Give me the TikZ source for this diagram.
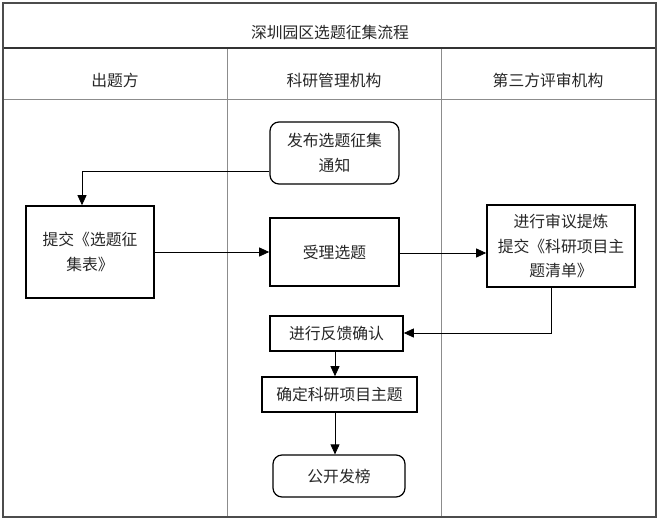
\documentclass[tikz,border=0pt]{standalone}
\usepackage{fontspec}
\setmainfont{Noto Sans CJK SC}
\usetikzlibrary{arrows.meta}
\begin{document}
\begin{tikzpicture}[x=1pt,y=-1pt,
  txt/.style={font=\fontsize{15.8}{24.5}\selectfont, text=black!85, align=center},
  boxthick/.style={txt, draw=black, line width=1.6pt, inner sep=0pt},
  boxround/.style={txt, draw=black, line width=1.2pt, rounded corners=9pt, inner sep=0pt},
  conn/.style={draw=black, line width=0.8pt, -{Triangle[length=10pt,width=9pt]}},
  grid/.style={draw=black!45, line width=0.8pt}]
\useasboundingbox (0,0) rectangle (660,521);
% frame and lanes
\draw[grid] (227,48) -- (227,517);
\draw[grid] (441,48) -- (441,517);
\draw[grid] (3,99) -- (656,99);
\draw[draw=black!80, line width=1.2pt] (3,48) -- (656,48);
\draw[draw=black!70, line width=1.2pt] (3,3) rectangle (656,517);
\node[txt] (title) at (330,32) {深圳园区选题征集流程};
\node[txt] (h1) at (115,80) {出题方};
\node[txt] (h2) at (334,80) {科研管理机构};
\node[txt] (h3) at (548,80) {第三方评审机构};
% nodes
\node[boxround, minimum width=129pt, minimum height=62pt] (notice) at (334.5,153) {发布选题征集\\通知};
\node[boxthick, minimum width=128pt, minimum height=92pt] (submit) at (90,252) {提交《选题征\\集表》};
\node[boxthick, minimum width=129pt, minimum height=68pt] (accept) at (334.5,252) {受理选题};
\node[boxthick, minimum width=148pt, minimum height=82pt] (review) at (561,246) {进行审议提炼\\提交《科研项目主\\题清单》};
\node[boxthick, minimum width=133pt, minimum height=35pt] (feedback) at (336.5,333.5) {进行反馈确认};
\node[boxthick, minimum width=155pt, minimum height=35pt] (confirm) at (339.5,394.5) {确定科研项目主题};
\node[boxround, minimum width=132pt, minimum height=42pt] (publish) at (339,476) {公开发榜};
% connectors
\coordinate (c1) at (82,171);
\draw[conn] (notice.west |- c1) -- (c1) -- (c1 |- submit.north);
\draw[conn] (submit.east) -- (accept.west);
\draw[conn] (accept.east |- 0,253) -- (review.west |- 0,253);
\coordinate (c2) at (551,333);
\draw[conn] (c2 |- review.south) -- (c2) -- (feedback.east |- c2);
\draw[conn] (335,0 |- feedback.south) -- (335,0 |- confirm.north);
\draw[conn] (335,0 |- confirm.south) -- (335,0 |- publish.north);
\end{tikzpicture}
\end{document}
